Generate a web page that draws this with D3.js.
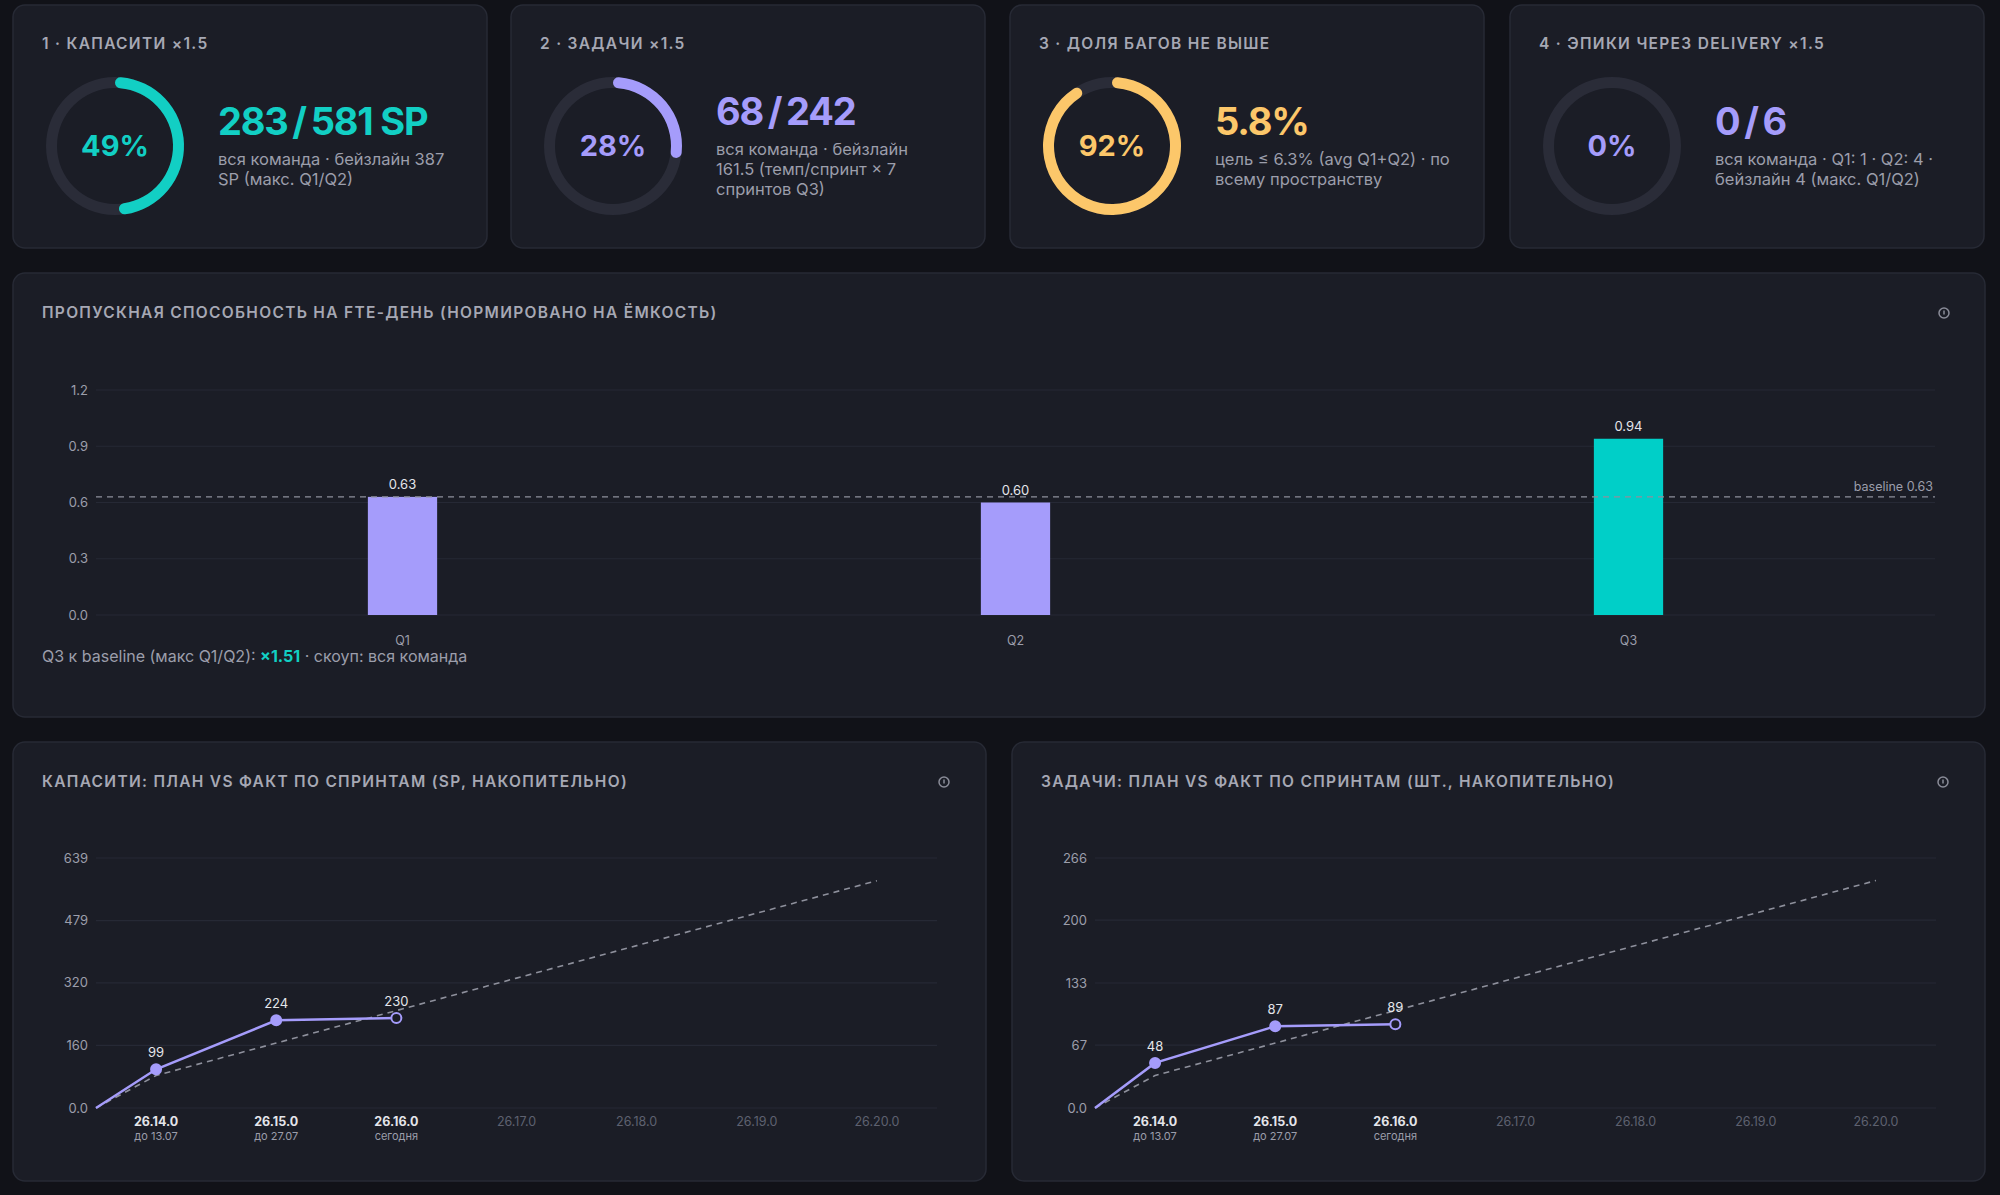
<!DOCTYPE html>
<html><head><meta charset="utf-8">
<script src="https://cdn.jsdelivr.net/npm/d3@7"></script>
<style>
html,body{margin:0;padding:0;background:#111218;}
svg{display:block;font-family:Inter,"Noto Sans",sans-serif;}
</style></head><body>
<svg id="c" width="2000" height="1195"></svg>
<script>
// ---- data ----
const kpiTitles = ["1 · КАПАСИТИ ×1.5","2 · ЗАДАЧИ ×1.5","3 · ДОЛЯ БАГОВ НЕ ВЫШЕ","4 · ЭПИКИ ЧЕРЕЗ DELIVERY ×1.5"];
const kpiPercent = [49, 28, 92, 0];
const kpiValue = ["283\u2009/\u2009581 SP","68\u2009/\u2009242","5.8%","0\u2009/\u20096"];
const kpiSub = [
  ["вся команда · бейзлайн 387","SP (макс. Q1/Q2)"],
  ["вся команда · бейзлайн","161.5 (темп/спринт × 7","спринтов Q3)"],
  ["цель ≤ 6.3% (avg Q1+Q2) · по","всему пространству"],
  ["вся команда · Q1: 1 · Q2: 4 ·","бейзлайн 4 (макс. Q1/Q2)"]
];
const kpiColors = ["#12cfc4","#a59cfb","#fcc76a","#a59cfb"];

const quarters = ["Q1","Q2","Q3"];
const throughput = [0.63, 0.60, 0.94];
const throughputBaseline = 0.63;
const throughputRatio = "×1.51";
const throughputTicks = [0,0.3,0.6,0.9,1.2];

const sprints = ["26.14.0","26.15.0","26.16.0","26.17.0","26.18.0","26.19.0","26.20.0"];
const sprintSub = ["до 13.07","до 27.07","сегодня","","","",""];
const spActual = [0, 99, 224, 230];
const spPlan = [0, 83, 166, 249, 332, 415, 498, 581];
const spTicks = [0,160,320,479,639];
const spTickLabels = ["0.0","160","320","479","639"];
const taskActual = [0, 48, 87, 89];
const taskPlan = [0, 34.6, 69.1, 103.7, 138.3, 172.9, 207.4, 242];
const taskTicks = [0,67,133,200,266];
const taskTickLabels = ["0.0","67","133","200","266"];

// ---- drawing ----
const svg = d3.select("#c");
const CARD="#1b1d26", STROKE="#272a35", GRID="#262935", TXT="#9c9eab";

function panel(x,y,w,h){
  svg.append("rect").attr("x",x).attr("y",y).attr("width",w).attr("height",h)
    .attr("rx",12).attr("fill",CARD).attr("stroke",STROKE).attr("stroke-width",1.5);
}
function title(x,y,t){
  svg.append("text").attr("x",x).attr("y",y).text(t).attr("fill","#a6a8b4")
    .attr("font-size",15.5).attr("font-weight",600).attr("letter-spacing",1.3);
}
function info(x,y){
  svg.append("circle").attr("cx",x).attr("cy",y).attr("r",5).attr("fill","none").attr("stroke","#8a8c98").attr("stroke-width",1.5);
  svg.append("line").attr("x1",x).attr("x2",x).attr("y1",y-2.5).attr("y2",y+1.5).attr("stroke","#8a8c98").attr("stroke-width",1.5);
}

// KPI cards
const cardX=[13,511,1010,1510], cardW=474;
kpiTitles.forEach((t,i)=>{
  const x=cardX[i];
  panel(x,5,cardW,243);
  title(x+29,49,t);
  const cx=x+102, cy=146;
  const g=svg.append("g").attr("transform",`translate(${cx},${cy})`);
  const arc=d3.arc().innerRadius(58).outerRadius(69).cornerRadius(6);
  g.append("path").attr("d",arc({startAngle:0,endAngle:2*Math.PI})).attr("fill","#2a2c38");
  if(kpiPercent[i]>0) g.append("path").attr("d",arc({startAngle:0,endAngle:2*Math.PI*kpiPercent[i]/100})).attr("fill",kpiColors[i]);
  g.append("text").attr("text-anchor","middle").attr("dy","0.35em").attr("font-size",29).attr("font-weight",700)
    .attr("fill",kpiColors[i]).text(kpiPercent[i]+"%");
  const tx=x+205;
  const nl=kpiSub[i].length;
  const valY = nl===3?125:135;
  svg.append("text").attr("x",tx).attr("y",valY).attr("font-size",38).attr("font-weight",700)
    .attr("letter-spacing",-1.2).attr("fill",kpiColors[i]).text(kpiValue[i]);
  kpiSub[i].forEach((s,j)=>svg.append("text").attr("x",tx).attr("y",valY+30+j*20).attr("font-size",16.5)
    .attr("fill",TXT).text(s));
});

// Throughput bar chart
panel(13,273,1972,444);
title(42,318,"ПРОПУСКНАЯ СПОСОБНОСТЬ НА FTE-ДЕНЬ (НОРМИРОВАНО НА ЁМКОСТЬ)");
info(1944,313);
{
  const x=d3.scaleBand().domain(quarters).range([96,1935]);
  const y=d3.scaleLinear().domain([0,1.2]).range([615,390]);
  const g=svg.append("g");
  g.selectAll(".gl").data(throughputTicks).join("line").attr("x1",96).attr("x2",1935)
    .attr("y1",d=>y(d)).attr("y2",d=>y(d)).attr("stroke",GRID).attr("stroke-width",1.2);
  g.selectAll(".tl").data(throughputTicks).join("text").attr("x",88).attr("y",d=>y(d)).attr("dy","0.35em")
    .attr("text-anchor","end").attr("font-size",13).attr("fill",TXT).text(d=>d.toFixed(1));
  const bw=x.bandwidth()*0.113;
  g.selectAll(".bar").data(throughput).join("rect")
    .attr("x",(d,i)=>x(quarters[i])+x.bandwidth()/2-bw/2).attr("width",bw)
    .attr("y",d=>y(d)).attr("height",d=>y(0)-y(d))
    .attr("fill",(d,i)=>i===2?"#00cfc8":"#a59cfb");
  g.selectAll(".bl").data(throughput).join("text")
    .attr("x",(d,i)=>x(quarters[i])+x.bandwidth()/2).attr("y",d=>y(d)-8)
    .attr("text-anchor","middle").attr("font-size",13).attr("fill","#e4e5ea").text(d=>d.toFixed(2));
  g.selectAll(".xl").data(quarters).join("text").attr("x",d=>x(d)+x.bandwidth()/2).attr("y",645)
    .attr("text-anchor","middle").attr("font-size",12.5).attr("fill",TXT).text(d=>d);
  g.append("line").attr("x1",96).attr("x2",1935).attr("y1",y(throughputBaseline)).attr("y2",y(throughputBaseline))
    .attr("stroke","#8e909c").attr("stroke-width",1.3).attr("stroke-dasharray","6,5");
  g.append("text").attr("x",1933).attr("y",y(throughputBaseline)-6).attr("text-anchor","end")
    .attr("font-size",12.5).attr("fill",TXT).text("baseline "+throughputBaseline.toFixed(2));
  const ft=g.append("text").attr("x",42).attr("y",662).attr("font-size",16).attr("fill",TXT);
  ft.append("tspan").text("Q3 к baseline (макс Q1/Q2): ");
  ft.append("tspan").attr("fill","#12cfc4").attr("font-weight",700).text(throughputRatio);
  ft.append("tspan").text(" · скоуп: вся команда");
}

// line charts
function lineChart(px,ttl,actual,plan,ticks,tickLabels){
  panel(px,742,973,439);
  title(px+29,787,ttl);
  info(px+931,782);
  const x0=px+83, x1=px+924;
  const x=d3.scaleLinear().domain([-0.5,6.5]).range([x0,x1]);
  const y=d3.scaleLinear().domain([0,ticks[4]]).range([1108,858]);
  const g=svg.append("g");
  g.selectAll(".gl").data(ticks).join("line").attr("x1",x0).attr("x2",x1)
    .attr("y1",d=>y(d)).attr("y2",d=>y(d)).attr("stroke",GRID).attr("stroke-width",1.2);
  g.selectAll(".tl").data(ticks).join("text").attr("x",x0-8).attr("y",d=>y(d)).attr("dy","0.35em")
    .attr("text-anchor","end").attr("font-size",13).attr("fill",TXT).text((d,i)=>tickLabels[i]);
  const xi=i=>i===0?x(-0.5):x(i-1);
  g.selectAll(".xl").data(sprints).join("text").attr("x",(d,i)=>x(i)).attr("y",1126)
    .attr("text-anchor","middle").attr("font-size",12.5).attr("font-weight",(d,i)=>i<3?700:400)
    .attr("fill",(d,i)=>i<3?"#e4e5ea":"#5e6170").text(d=>d);
  g.selectAll(".xs").data(sprintSub).join("text").attr("x",(d,i)=>x(i)).attr("y",1140)
    .attr("text-anchor","middle").attr("font-size",11).attr("fill",TXT).text(d=>d);
  g.append("path").datum(plan).attr("d",d3.line().x((d,i)=>xi(i)).y(d=>y(d)))
    .attr("fill","none").attr("stroke","#8e909c").attr("stroke-width",1.6).attr("stroke-dasharray","6,5");
  g.append("path").datum(actual).attr("d",d3.line().x((d,i)=>xi(i)).y(d=>y(d)))
    .attr("fill","none").attr("stroke","#a59cfb").attr("stroke-width",2.5);
  const pts=actual.slice(1);
  g.selectAll(".pt").data(pts).join("circle").attr("cx",(d,i)=>x(i)).attr("cy",d=>y(d)).attr("r",5)
    .attr("fill",(d,i)=>i===pts.length-1?CARD:"#a59cfb").attr("stroke","#a59cfb").attr("stroke-width",2);
  g.selectAll(".pl").data(pts).join("text").attr("x",(d,i)=>x(i)).attr("y",d=>y(d)-12)
    .attr("text-anchor","middle").attr("font-size",13).attr("fill","#e4e5ea").text(d=>d);
}
lineChart(13,"КАПАСИТИ: ПЛАН VS ФАКТ ПО СПРИНТАМ (SP, НАКОПИТЕЛЬНО)",spActual,spPlan,spTicks,spTickLabels);
lineChart(1012,"ЗАДАЧИ: ПЛАН VS ФАКТ ПО СПРИНТАМ (ШТ., НАКОПИТЕЛЬНО)",taskActual,taskPlan,taskTicks,taskTickLabels);
</script></body></html>
